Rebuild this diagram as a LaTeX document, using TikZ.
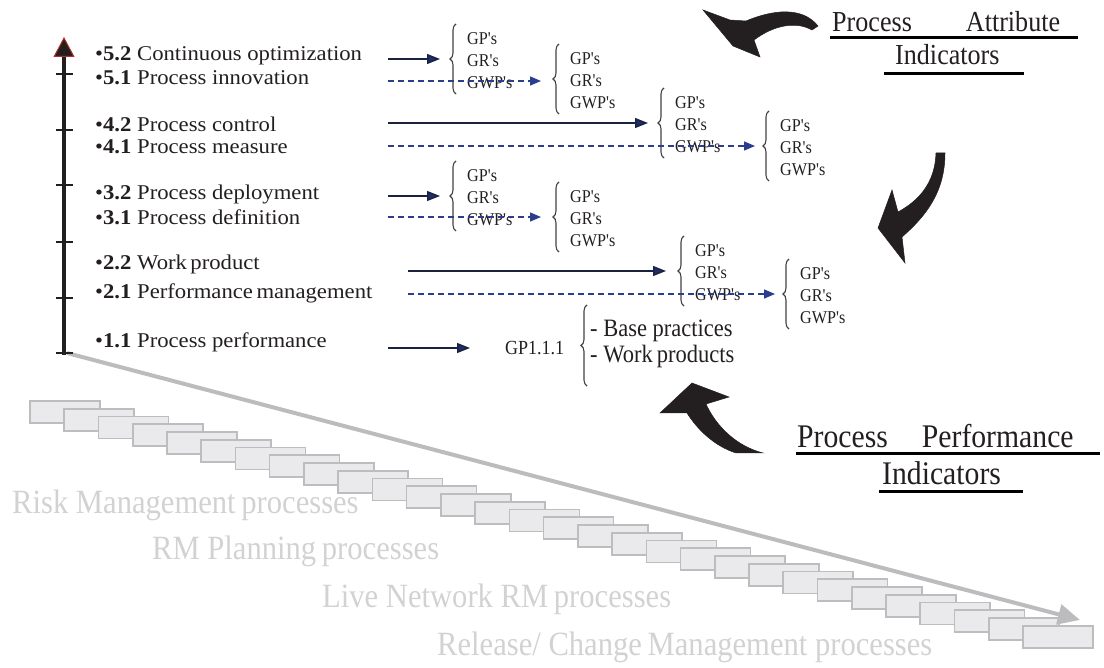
\documentclass[tikz,border=0pt]{standalone}
\usepackage{fontspec}
\setmainfont{Liberation Serif}
\newfontfamily\lblfont[FakeStretch=1.08]{Liberation Serif}
\newfontfamily\tallfont[FakeStretch=0.9]{Liberation Serif}
\usetikzlibrary{arrows.meta,decorations.pathreplacing,calc}

\definecolor{ink}{HTML}{231F20}
\definecolor{axred}{HTML}{B0302A}
\definecolor{navy}{HTML}{1B2240}
\definecolor{navyhead}{HTML}{1E2C6A}
\definecolor{dashblue}{HTML}{2A3D8F}
\definecolor{paletxt}{HTML}{D2D2D2}
\definecolor{stairfill}{HTML}{EAEAEC}
\definecolor{stairline}{HTML}{BDBDBF}
\definecolor{trend}{HTML}{BCBCBE}

\tikzset{
  lbl/.style={anchor=west, inner sep=0pt, text=ink, font=\lblfont\fontsize{21}{24}\selectfont},
  gp/.style={anchor=west, inner sep=0pt, align=left, text=ink, font=\tallfont\fontsize{18}{22}\selectfont},
  bp/.style={anchor=west, inner sep=0pt, text=ink, font=\tallfont\fontsize{25}{27}\selectfont},
  brc/.style={draw=ink!85, line width=1.1pt, decorate, decoration={brace, amplitude=6pt}},
  solidarr/.style={draw=navy, line width=1.4pt, -{Triangle[length=13pt,width=10pt,fill=navyhead]}},
  dasharr/.style={draw=dashblue, line width=1.4pt, dash pattern=on 6pt off 4pt, -{Triangle[length=11pt,width=9pt,fill=dashblue]}},
  axisline/.style={draw=ink, line width=4pt},
  axistick/.style={draw=ink, line width=2pt},
  ttl/.style={anchor=base west, inner sep=0pt, text=ink},
  uline/.style={draw=black, line width=3pt},
  pale/.style={anchor=west, inner sep=0pt, text=paletxt, font=\tallfont\fontsize{34}{36}\selectfont},
  stairbox/.style={draw=stairline, fill=stairfill, line width=1.6pt},
  trendarr/.style={draw=trend, line width=4pt, -{Triangle[length=22pt,width=20pt]}},
  bigarrow/.style={fill=ink, draw=ink, line width=0.5pt}
}

\begin{document}
\begin{tikzpicture}[x=1pt, y=-1pt]
\useasboundingbox (0,0) rectangle (1104,668);

% ---- staircase of process boxes ----
\foreach \i in {0,...,29} {
  \draw[stairbox] ({30+34.24*\i},{401+7.75*\i}) rectangle ++(70,22);
}

% ---- trend arrow along the staircase ----
\coordinate (trendstart) at (67,353);
\coordinate (trendend) at (1080,620);
\draw[trendarr] (trendstart) -- (trendend);

% ---- process group captions ----
\node[pale] (rm)  at (12,505)  {Risk Management\,processes};
\node[pale] (rmp) at (152,551) {RM Planning\,processes};
\node[pale] (lnw) at (322,599) {Live Network RM\,processes};
\node[pale] (rcm) at (437,647) {Release/ Change\,Management processes};

% ---- capability axis ----
\coordinate (axbot) at (64,355);
\coordinate (axtop) at (64,37);
\draw[axisline, -{Triangle[length=20pt,width=21pt,fill=ink,color=axred,line width=1pt]}] (axbot) -- (axtop);
\foreach \ty in {74,130,185,242,298,353} {
  \draw[axistick] (56,\ty) -- (73,\ty);
}

% ---- process attributes ----
\node[lbl] (l52) at (95,56)  {•\textbf{5.2} Continuous optimization};
\node[lbl] (l51) at (95,78)  {•\textbf{5.1} Process innovation};
\node[lbl] (l42) at (95,124) {•\textbf{4.2} Process control};
\node[lbl] (l41) at (95,147) {•\textbf{4.1} Process measure};
\node[lbl] (l32) at (95,194) {•\textbf{3.2} Process deployment};
\node[lbl] (l31) at (95,217) {•\textbf{3.1} Process definition};
\node[lbl] (l22) at (95,264) {•\textbf{2.2} Work\,product};
\node[lbl] (l21) at (95,293) {•\textbf{2.1} Performance\,management};
\node[lbl] (l11) at (95,342) {•\textbf{1.1} Process performance};

% ---- indicator groups (brace + GP/GR/GWP) ----
\foreach \n/\x/\y in {1/456/59, 2/559/79, 3/664/123, 4/769/146,
                      5/456/196, 6/559/217, 7/684/271, 8/789/294} {
  \draw[brc] (\x,\y+35) -- (\x,\y-35);
  \coordinate (b\n) at (\x-6,\y);
  \node[gp] (g\n) at (\x+11,\y+2) {GP's\\GR's\\GWP's};
}

% ---- arrow origins ----
\coordinate (s52) at (388,59);
\coordinate (s51) at (388,81);
\coordinate (s42) at (388,123);
\coordinate (s41) at (388,146);
\coordinate (s32) at (388,196);
\coordinate (s31) at (388,217);
\coordinate (s22) at (408,271);
\coordinate (s21) at (408,294);
\coordinate (s11) at (388,348);

% ---- attribute arrows ----
\draw[solidarr] (s52) -- ([xshift=-10pt]b1);
\draw[dasharr]  (s51) -- ([xshift=-12pt]b2 |- s51);
\draw[solidarr] (s42) -- ([xshift=-10pt]b3);
\draw[dasharr]  (s41) -- ([xshift=-8pt]b4);
\draw[solidarr] (s32) -- ([xshift=-10pt]b5);
\draw[dasharr]  (s31) -- ([xshift=-12pt]b6);
\draw[solidarr] (s22) -- ([xshift=-12pt]b7);
\draw[dasharr]  (s21) -- ([xshift=-8pt]b8);

% ---- level 1 indicators ----
\node[gp, font=\tallfont\fontsize{20}{22}\selectfont] (gp111) at (505,348) {GP1.1.1};
\draw[solidarr] (s11) -- ([xshift=-35pt]gp111.west);
\draw[brc] (587,386) -- (587,305);
\node[bp] (bpr) at (590,331) {- Base practices};
\node[bp] (wpr) at (590,356) {- Work\,products};

% ---- headings ----
\node[ttl, font=\tallfont\fontsize{29}{31}\selectfont] (pa1) at (832,32) {Process\hspace{54pt}Attribute};
\node[ttl, font=\tallfont\fontsize{29}{31}\selectfont] (pa2) at (895,65) {Indicators};
\draw[uline] ([shift={(-2pt,-6pt)}]pa1.base west) -- ([shift={(18pt,-6pt)}]pa1.base east);
\draw[uline] ([shift={(-11pt,-9pt)}]pa2.base west) -- ([shift={(24pt,-9pt)}]pa2.base east);

\node[ttl, font=\tallfont\fontsize{33}{35}\selectfont] (pp1) at (797,448) {Process\hspace{34pt}Performance};
\node[ttl, font=\tallfont\fontsize{33}{35}\selectfont] (pp2) at (882,485) {Indicators};
\draw[uline] ([shift={(-1pt,-6pt)}]pp1.base west) -- ([shift={(26pt,-6pt)}]pp1.base east);
\draw[uline] ([shift={(-3pt,-6pt)}]pp2.base west) -- ([shift={(22pt,-6pt)}]pp2.base east);

% ---- curved pointer arrows ----
% top: towards the attribute indicators
\fill[bigarrow] (703,10) -- (730,20) -- (746,21)
  .. controls (772,10) and (802,6) .. (818,26)
  -- (812,30)
  .. controls (796,21) and (774,25) .. (754,40)
  -- (760,57) -- (733,46) -- cycle;
% middle right: pointing down-left
\fill[bigarrow] (878,228) -- (892,190) -- (898,212)
  .. controls (920,200) and (935,182) .. (936,153)
  -- (945,153)
  .. controls (945,192) and (926,216) .. (902,237)
  -- (905,263) -- cycle;
% bottom: towards the performance indicators
\fill[bigarrow] (692,383) -- (729,397) -- (706,404)
  .. controls (716,426) and (736,446) .. (763,453)
  -- (736,453)
  .. controls (714,446) and (697,429) .. (687,413)
  -- (660,413) -- cycle;
\end{tikzpicture}
\end{document}
